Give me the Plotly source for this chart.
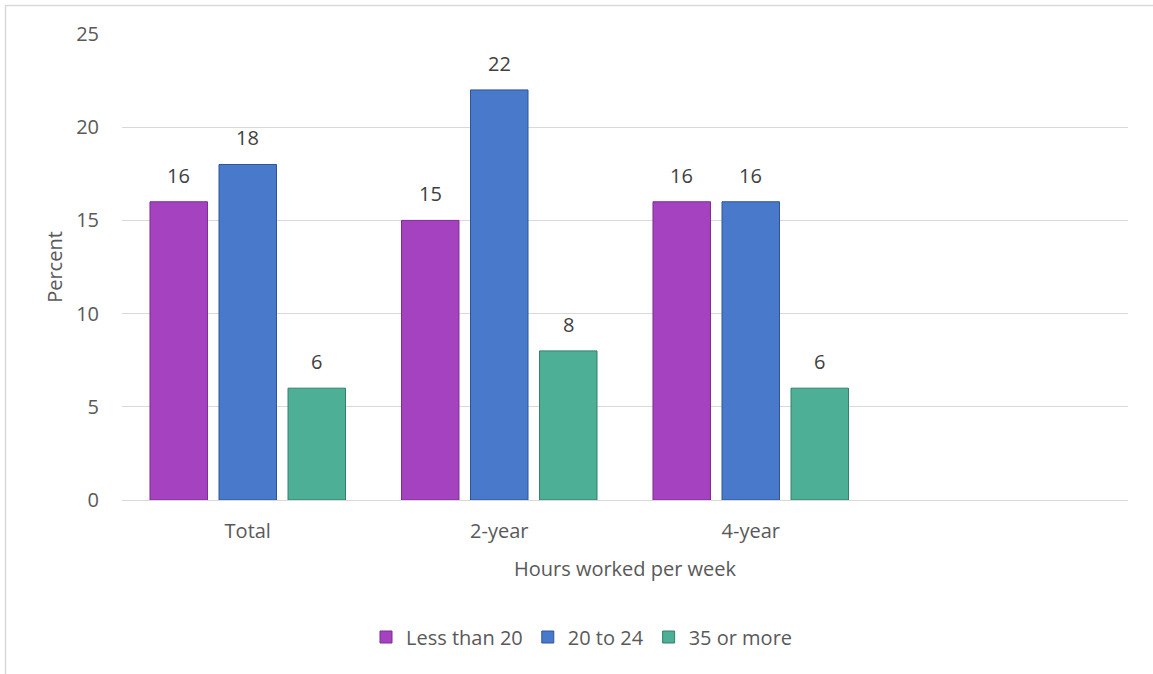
import plotly.graph_objects as go

# Share of students by hours worked per week, by institution type
categories = ["Total", "2-year", "4-year", " "]
series_names = ["Less than 20", "20 to 24", "35 or more"]
less_than_20 = [16, 15, 16, None]
twenty_to_24 = [18, 22, 16, None]
thirty_five_plus = [6, 8, 6, None]
y_ticks = [0, 5, 10, 15, 20, 25]

series_values = [less_than_20, twenty_to_24, thirty_five_plus]
fills = ["#A542BF", "#4879CB", "#4CAF96"]
edges = ["#7E2C95", "#2F5597", "#347F6B"]

FONT = "'Open Sans', Lato, Arial, sans-serif"
TXT = 20

# bar geometry in category units: slot pitch and bar width inside a group
PITCH = 0.2744
BAR_W = 0.2286

fig = go.Figure()
annotations = []
for k, (name, vals, fill, edge) in enumerate(zip(series_names, series_values, fills, edges)):
    centre = (k - 1) * PITCH
    fig.add_trace(go.Bar(
        name=name,
        x=categories,
        y=vals,
        width=BAR_W,
        offset=centre - BAR_W / 2,
        marker=dict(color=fill, line=dict(color=edge, width=1)),
        hoverinfo="skip",
    ))
    for i, v in enumerate(vals):
        if v is None:
            continue
        annotations.append(dict(
            x=i + centre, y=v, xref="x", yref="y",
            text=str(v), showarrow=False,
            yanchor="bottom", yshift=11,
            font=dict(family=FONT, size=TXT, color="#404040"),
        ))

W, H = 1153, 674
ml, mr, mt, mb = 122, 25, 34, 174
pw, ph = W - ml - mr, H - mt - mb


def px_x(px):
    return (px - ml) / pw


def px_y(py):
    return (H - mb - py) / ph


fig.update_layout(
    width=W, height=H,
    margin=dict(l=ml, r=mr, t=mt, b=mb),
    paper_bgcolor="white",
    plot_bgcolor="white",
    barmode="overlay",
    font=dict(family=FONT, size=TXT, color="#595959"),
    xaxis=dict(
        title=dict(text="Hours worked per week", standoff=18,
                   font=dict(family=FONT, size=TXT, color="#595959")),
        range=[-0.5, 3.5],
        showgrid=False,
        showline=False,
        ticks="",
        ticklabelstandoff=17,
        tickfont=dict(family=FONT, size=TXT, color="#595959"),
    ),
    yaxis=dict(
        title=dict(text="Percent", standoff=8,
                   font=dict(family=FONT, size=TXT, color="#595959")),
        range=[0, 25],
        tickvals=y_ticks,
        showgrid=True,
        gridcolor="#D9D9D9",
        gridwidth=1,
        zeroline=True,
        zerolinecolor="#D9D9D9",
        zerolinewidth=1,
        showline=False,
        ticks="",
        ticklabelstandoff=22,
        tickfont=dict(family=FONT, size=TXT, color="#595959"),
    ),
    legend=dict(
        orientation="h",
        x=px_x(582), xanchor="center",
        y=px_y(637), yanchor="middle",
        font=dict(family=FONT, size=TXT, color="#595959"),
        itemwidth=30,
        traceorder="normal",
    ),
    annotations=annotations,
    shapes=[dict(
        type="rect", xref="paper", yref="paper",
        x0=px_x(5.5), x1=px_x(1200), y0=px_y(800), y1=px_y(5.5),
        line=dict(color="#D9D9D9", width=1.5),
        fillcolor="rgba(0,0,0,0)",
        layer="below",
    )],
    showlegend=True,
)

fig.write_html("out.html")
